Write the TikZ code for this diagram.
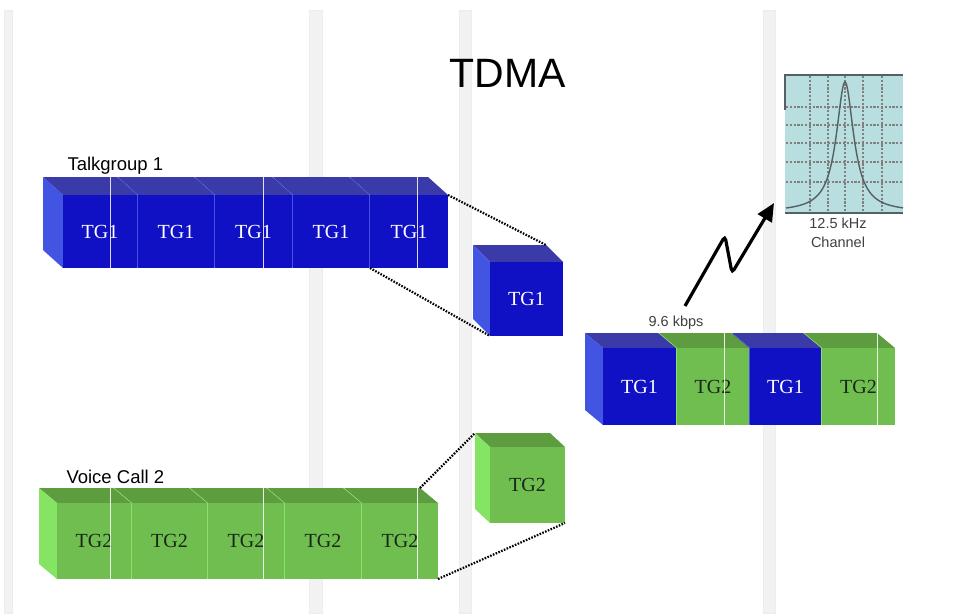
\documentclass[tikz,border=0pt]{standalone}
\usepackage{fontspec}
\setmainfont{Liberation Serif}
\setsansfont{Liberation Sans}
\usetikzlibrary{arrows.meta,calc}
\definecolor{bfront}{RGB}{16,16,196}
\definecolor{btop}{RGB}{58,58,168}
\definecolor{bside}{RGB}{66,84,226}
\definecolor{gfront}{RGB}{112,190,80}
\definecolor{gtop}{RGB}{94,156,64}
\definecolor{gside}{RGB}{134,228,100}
\definecolor{gtext}{RGB}{24,40,24}
\definecolor{chanfill}{RGB}{184,222,224}
\definecolor{chanline}{RGB}{84,96,98}
\tikzset{
  bluefront/.style={fill=bfront, text=white},
  bluetop/.style={fill=btop},
  blueside/.style={fill=bside},
  greenfront/.style={fill=gfront, text=gtext},
  greentop/.style={fill=gtop},
  greenside/.style={fill=gside},
  tgtext/.style={font=\fontsize{20}{24}\selectfont},
  lbl/.style={font=\sffamily\fontsize{18.5}{22}\selectfont},
  small/.style={font=\sffamily\fontsize{14.5}{17}\selectfont, text=black!75},
  band/.style={fill=black!5, draw=black!7, line width=0.6pt},
  gline/.style={draw=white, line width=0.9pt, opacity=0.85},
  dots/.style={line width=2.2pt, dash pattern=on 1.6pt off 1.4pt},
  grid/.style={draw=black!50, line width=1.1pt, dash pattern=on 2.2pt off 1.6pt},
  zap/.style={line width=3.2pt, rounded corners=4pt, -{Triangle[length=18pt,width=16pt]}},
}
% name, x, y, w, h, dx, dy, kind, text
\newcommand\cubebox[9]{%
  \fill[#8top] (#2,#3) -- ++(#4,0) -- ++(-#6,-#7) -- ++(-#4,0) -- cycle;
  \fill[#8side] (#2,#3) -- ++(0,#5) -- ++(-#6,-#7) -- ++(0,-#5) -- cycle;
  \node[#8front, tgtext, anchor=north west, inner sep=0pt, outer sep=0pt,
        minimum width=#4pt, minimum height=#5pt] (#1) at (#2,#3) {#9};
  \coordinate (#1-bnw) at ($(#1.north west)+(-#6,-#7)$);
  \coordinate (#1-bne) at ($(#1.north east)+(-#6,-#7)$);
}
\begin{document}
\begin{tikzpicture}[x=1pt,y=-1pt]
\useasboundingbox (0,0) rectangle (966,613);
\fill[white] (0,0) rectangle (966,613);
% background bands
\filldraw[band] (4,10) rectangle (12,613);
\filldraw[band] (309,10) rectangle (322,613);
\filldraw[band] (459,10) rectangle (471,613);
\filldraw[band] (763,10) rectangle (775,613);

\node[font=\sffamily\fontsize{41}{48}\selectfont, anchor=base] (title) at (508,87) {TDMA};

% Talkgroup 1 row
\node[lbl, anchor=base west] (lab1) at (64,170) {Talkgroup 1};
\cubebox{t5}{370}{195}{78}{73}{20}{18}{blue}{TG1}
\cubebox{t4}{293}{195}{76}{73}{20}{18}{blue}{TG1}
\cubebox{t3}{215}{195}{77}{73}{20}{18}{blue}{TG1}
\cubebox{t2}{138}{195}{76}{73}{20}{18}{blue}{TG1}
\cubebox{t1}{63}{195}{74}{73}{20}{18}{blue}{TG1}
\foreach \gx in {110,263,417} \draw[gline] (\gx,177) -- (\gx,268);

% Voice Call 2 row
\node[lbl, anchor=base west] (lab2) at (63,483) {Voice Call 2};
\cubebox{g5}{362}{503}{76}{76}{18}{15}{green}{TG2}
\cubebox{g4}{285}{503}{76}{76}{18}{15}{green}{TG2}
\cubebox{g3}{208}{503}{76}{76}{18}{15}{green}{TG2}
\cubebox{g2}{132}{503}{75}{76}{18}{15}{green}{TG2}
\cubebox{g1}{57}{503}{74}{76}{18}{15}{green}{TG2}
\foreach \gx in {110,263,417} \draw[gline] (\gx,488) -- (\gx,579);

% single boxes
\cubebox{s1}{490}{262}{73}{74}{17}{17}{blue}{TG1}
\cubebox{s2}{490}{447}{75}{76}{15}{14}{green}{TG2}

% dotted connectors
\draw[dots] (t5.north east) -- (s1-bne);
\draw[dots] (t5.south west) -- (s1.south west);
\draw[dots] (g5-bne) -- (s2-bnw);
\draw[dots] (g5.south east) -- (s2.south east);

% combined row
\cubebox{c4}{822}{348}{73}{77}{18}{15}{green}{TG2}
\cubebox{c3}{750}{348}{71}{77}{18}{15}{blue}{TG1}
\cubebox{c2}{677}{348}{72}{77}{18}{15}{green}{TG2}
\cubebox{c1}{603}{348}{73}{77}{18}{15}{blue}{TG1}
\foreach \gx in {724,877} \draw[gline] (\gx,333) -- (\gx,425);

% rate label and zigzag arrow
\node[small, anchor=base] (rate) at (676,326) {9.6 kbps};
\coordinate (zs) at (685,306);
\coordinate (zp) at (725,236);
\coordinate (zv) at (732,273);
\coordinate (ze) at (774,203);
\draw[zap] (zs) -- (zp) -- (zv) -- (ze);

% channel plot
\node[fill=chanfill, anchor=north west, inner sep=0pt, outer sep=0pt,
      minimum width=118pt, minimum height=138pt] (chan) at (785,75) {};
\foreach \gx in {810,828,845,863,882} \draw[grid] (\gx,76) -- (\gx,212);
\foreach \gy in {107,125,143,162,182} \draw[grid] (786,\gy) -- (903,\gy);
\draw[chanline, line width=1.4pt] (785,110) -- (chan.north west) -- (chan.north east);
\draw[chanline, line width=1.4pt] (chan.south west) -- (chan.south east);
\draw[chanline, line width=1.4pt] plot[domain=786:903, samples=150, smooth]
   (\x, {212 - 130/(1+((\x-845)/10.5)^2)});
\node[small, anchor=base] (ch1) at (838,228) {12.5 kHz};
\node[small, anchor=base] (ch2) at (838,247) {Channel};
\end{tikzpicture}
\end{document}
